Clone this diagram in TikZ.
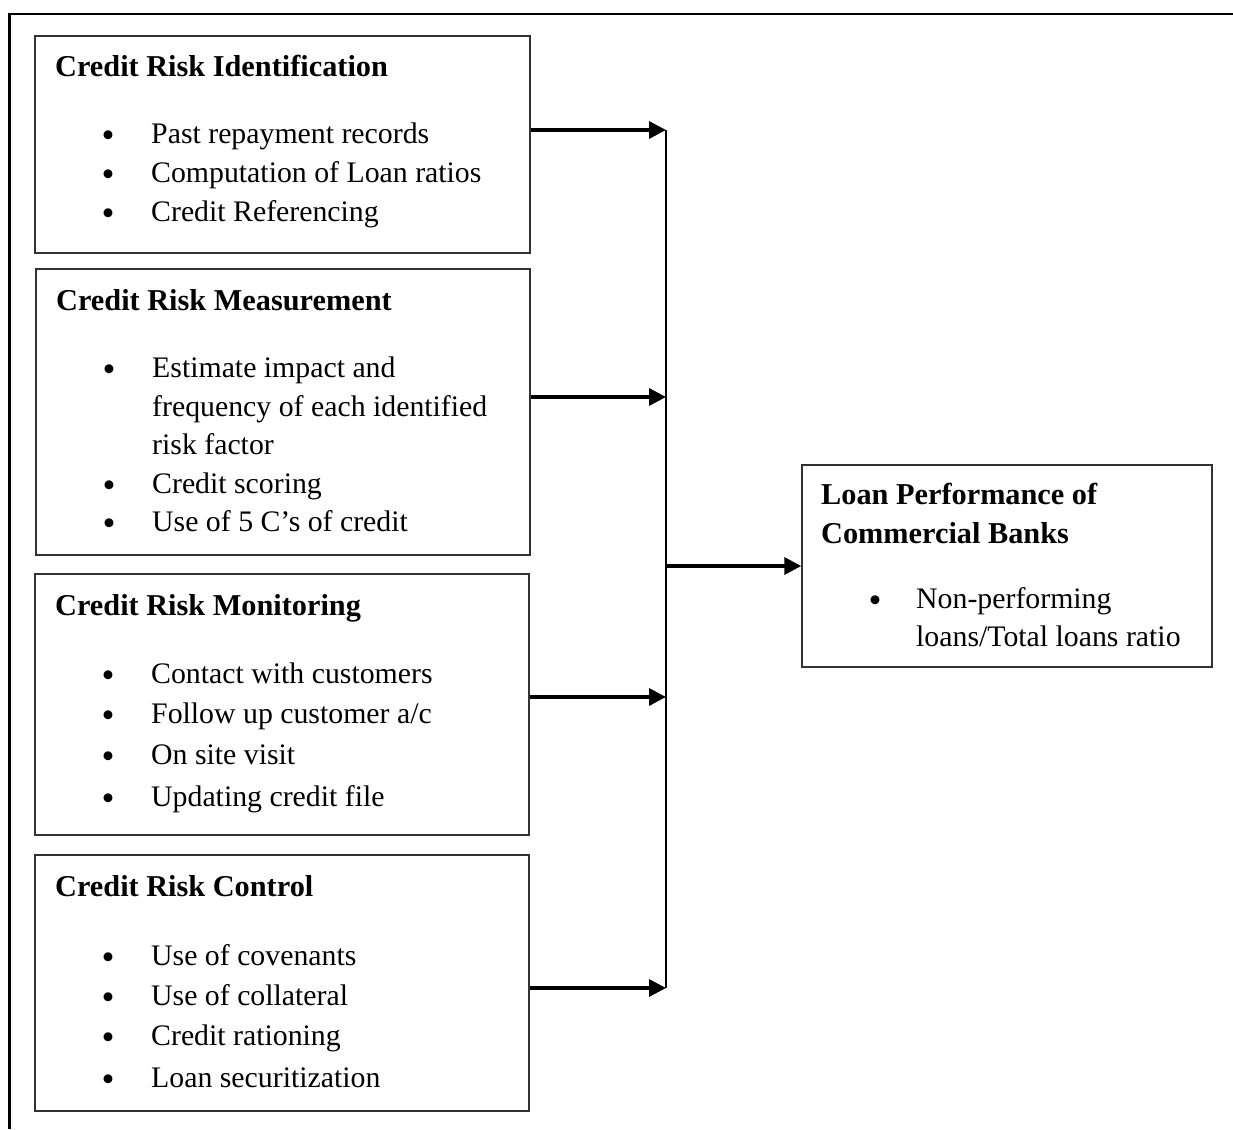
\documentclass[tikz,border=0pt]{standalone}
\usepackage{fontspec}
\setmainfont{Liberation Serif}
\usetikzlibrary{arrows.meta}
\tikzset{
  box/.style={draw=black!80, line width=1.4pt, inner sep=0pt},
  txt/.style={anchor=base west, inner sep=0pt, font=\fontsize{29.8}{39}\selectfont},
  ttl/.style={anchor=base west, inner sep=0pt, font=\fontsize{30.3}{39}\selectfont\bfseries},
  bul/.style={anchor=base, inner sep=0pt, font=\fontsize{37}{39}\selectfont},
  arr/.style={line width=3.4pt, -{Triangle[length=17pt,width=17pt]}},
  conn/.style={line width=2pt},
  frame/.style={line width=2.4pt}
}
\newcommand\bitem[5]{\node[bul] (#1b) at (#2,#4) {\smash{\raisebox{-4pt}{\textbullet}}};\node[txt] (#1) at (#3,#4) {#5};}
\begin{document}
\begin{tikzpicture}[x=1pt,y=-1pt]
\useasboundingbox (0,0) rectangle (1233,1129);
% outer frame
\coordinate (fa) at (9.5,1129);
\coordinate (fb) at (9.5,14);
\coordinate (fc) at (1233,14);
\draw[frame] (fa) -- (fb) -- (fc);

% boxes
\node[box, minimum width=495pt, minimum height=217pt] (b1) at (282.5,144.5) {};
\node[box, minimum width=494pt, minimum height=286pt] (b2) at (283,412) {};
\node[box, minimum width=494pt, minimum height=261pt] (b3) at (282,704.5) {};
\node[box, minimum width=494pt, minimum height=256pt] (b4) at (282,983) {};
\node[box, minimum width=410pt, minimum height=202pt] (b5) at (1007,566) {};

% box 1
\node[ttl] (t1) at (55,77) {Credit Risk Identification};
\bitem{i1}{108}{151}{143}{Past repayment records}
\bitem{i2}{108}{151}{182}{Computation of Loan ratios}
\bitem{i3}{108}{151}{221}{Credit Referencing}

% box 2
\node[ttl] (t2) at (56,310) {Credit Risk Measurement};
\bitem{m1}{109}{152}{377}{Estimate impact and}
\node[txt] (m1x) at (152,416) {frequency of each identified};
\node[txt] (m1y) at (152,454) {risk factor};
\bitem{m2}{109}{152}{493}{Credit scoring}
\bitem{m3}{109}{152}{531}{Use of 5 C’s of credit}

% box 3
\node[ttl] (t3) at (55,615) {Credit Risk Monitoring};
\bitem{n1}{108}{151}{683}{Contact with customers}
\bitem{n2}{108}{151}{723}{Follow up customer a/c}
\bitem{n3}{108}{151}{764}{On site visit}
\bitem{n4}{108}{151}{806}{Updating credit file}

% box 4
\node[ttl] (t4) at (55,896) {Credit Risk Control};
\bitem{c1}{108}{151}{965}{Use of covenants}
\bitem{c2}{108}{151}{1005}{Use of collateral}
\bitem{c3}{108}{151}{1045}{Credit rationing}
\bitem{c4}{108}{151}{1087}{Loan securitization}

% box 5
\node[ttl] (t5) at (821,504) {Loan Performance of};
\node[ttl] (t5b) at (821,543) {Commercial Banks};
\bitem{p1}{875}{916}{608}{Non-performing}
\node[txt] (p1x) at (916,646) {loans/Total loans ratio};

% connectors
\coordinate (j1) at (666,130);
\coordinate (j2) at (666,397);
\coordinate (j3) at (666,697);
\coordinate (j4) at (666,988);
\coordinate (jm) at (666,566);
\draw[conn] (j1) -- (j4);
\draw[arr] (b1.east |- j1) -- (j1);
\draw[arr] (b2.east |- j2) -- (j2);
\draw[arr] (b3.east |- j3) -- (j3);
\draw[arr] (b4.east |- j4) -- (j4);
\draw[arr] (jm) -- (b5.west);
\end{tikzpicture}
\end{document}
